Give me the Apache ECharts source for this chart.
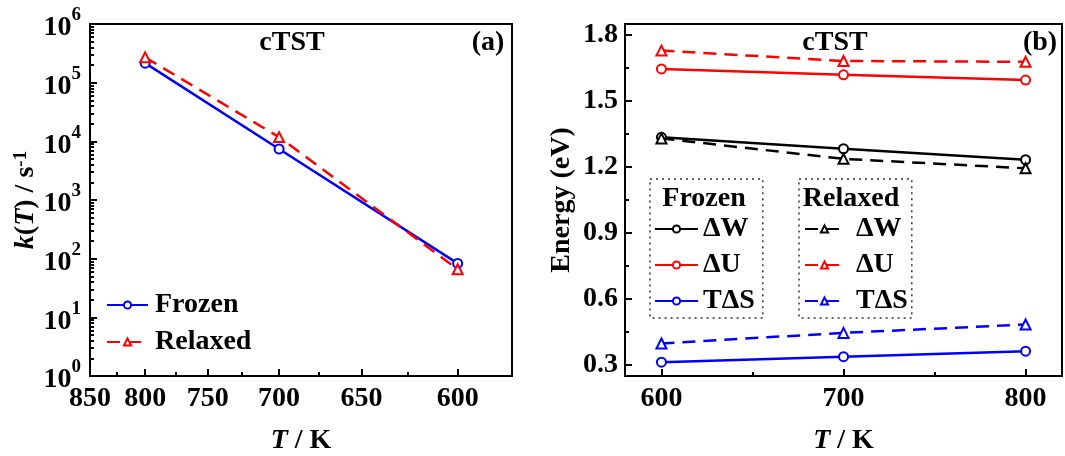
<!DOCTYPE html>
<html>
<head>
<meta charset="utf-8">
<script src="https://cdn.jsdelivr.net/npm/echarts@6/dist/echarts.min.js"></script>
<style>html,body{margin:0;padding:0;background:#fff}#c{width:1065px;height:456px}</style>
</head>
<body>
<div id="c"></div>
<script>
// ---------- data ----------
const tempsA = [800, 700, 600];                 // K
const kFrozen = [2.15e5, 7.4e3, 83];            // s^-1
const kRelaxed = [2.7e5, 1.18e4, 66];           // s^-1
const tickLabelsA = [850, 800, 750, 700, 650, 600];
const minorTicksA = [825, 775, 725, 675, 625];

const tempsB = [600, 700, 800];
const dWFrozen = [1.335, 1.283, 1.233];
const dUFrozen = [1.646, 1.619, 1.595];
const TdSFrozen = [0.313, 0.338, 0.363];
const dWRelaxed = [1.330, 1.237, 1.194];
const dURelaxed = [1.729, 1.682, 1.678];
const TdSRelaxed = [0.398, 0.446, 0.484];
const tickLabelsBx = [600, 700, 800];
const minorTicksBx = [650, 750];
const tickLabelsBy = [0.3, 0.6, 0.9, 1.2, 1.5, 1.8];
const minorTicksBy = [0.45, 0.75, 1.05, 1.35, 1.65];

// ---------- helpers ----------
const F = 'Liberation Serif, Times New Roman, serif';
const BLACK = '#000', RED = '#ff0000', BLUE = '#0000ff';
const inv = t => 1000 / t;
const logMinor = [];
for (let d = 0; d < 6; d++) for (let m = 2; m <= 9; m++) logMinor.push(Math.log10(m * Math.pow(10, d)));

const lbl = {fontFamily: F, fontSize: 28, fontWeight: 'bold', color: BLACK};
const axLine = {show: true, lineStyle: {color: BLACK, width: 2}};
const tickStyle = {color: BLACK, width: 2};

function lineSeries(name, xs, ys, xi, yi, color, dashed, tri) {
  return {
    type: 'line', name, xAxisIndex: xi, yAxisIndex: yi,
    data: xs.map((x, i) => [x, ys[i]]),
    symbol: tri ? 'emptyTriangle' : 'emptyCircle',
    symbolSize: tri ? 10 : 9,
    lineStyle: {color, width: 2.5, type: dashed ? [13, 8] : 'solid'},
    itemStyle: {color, borderColor: color, borderWidth: 1.2},
    z: 3
  };
}

const chart = echarts.init(document.getElementById('c'), null, {renderer: 'canvas'});
const option = {
  animation: false,
  backgroundColor: '#fff',
  grid: [
    {left: 90, top: 24, width: 422, height: 352, show: true, borderColor: BLACK, borderWidth: 2,
     containLabel: false, outerBoundsMode: 'none'},
    {left: 625, top: 24, width: 437, height: 352, show: true, borderColor: BLACK, borderWidth: 2,
     containLabel: false, outerBoundsMode: 'none'}
  ],
  xAxis: [
    {
      gridIndex: 0, type: 'value', position: 'bottom',
      min: inv(850), max: inv(575),
      axisLine: axLine,
      axisTick: {inside: true, length: 7, lineStyle: tickStyle, customValues: tickLabelsA.map(inv)},
      axisLabel: Object.assign({margin: 9, customValues: tickLabelsA.map(inv),
        formatter: v => String(Math.round(1000 / v))}, lbl),
      splitLine: {show: false},
      name: '{i|T}{n| / K}', nameLocation: 'middle', nameGap: 51,
      nameTextStyle: {rich: {i: Object.assign({fontStyle: 'italic'}, lbl), n: lbl}}
    },
    {
      gridIndex: 0, type: 'value', position: 'bottom',
      min: inv(850), max: inv(575),
      axisLine: {show: false},
      axisTick: {inside: true, length: 4, lineStyle: tickStyle, customValues: minorTicksA.map(inv)},
      axisLabel: {show: false}, splitLine: {show: false}
    },
    {
      gridIndex: 1, type: 'value', position: 'bottom',
      min: 580, max: 820,
      axisLine: axLine,
      axisTick: {inside: true, length: 7, lineStyle: tickStyle, customValues: tickLabelsBx},
      axisLabel: Object.assign({margin: 9, customValues: tickLabelsBx}, lbl),
      splitLine: {show: false},
      name: '{i|T}{n| / K}', nameLocation: 'middle', nameGap: 51,
      nameTextStyle: {rich: {i: Object.assign({fontStyle: 'italic'}, lbl), n: lbl}}
    },
    {
      gridIndex: 1, type: 'value', position: 'bottom',
      min: 580, max: 820,
      axisLine: {show: false},
      axisTick: {inside: true, length: 4, lineStyle: tickStyle, customValues: minorTicksBx},
      axisLabel: {show: false}, splitLine: {show: false}
    }
  ],
  yAxis: [
    {
      gridIndex: 0, type: 'log', logBase: 10, min: 1, max: 1e6, splitNumber: 6, position: 'left',
      axisLine: axLine,
      axisTick: {inside: true, length: 7, lineStyle: tickStyle},
      axisLabel: {
        margin: 9,
        formatter: v => '{b|10}{s|' + Math.round(Math.log10(v)) + '}',
        rich: {
          b: Object.assign({padding: [8, 0, 0, 0], verticalAlign: 'bottom'}, lbl),
          s: {fontFamily: F, fontSize: 19, fontWeight: 'bold', color: BLACK, verticalAlign: 'top'}
        }
      },
      splitLine: {show: false},
      name: '{i|k}{n|(}{i|T}{n|) / s}{s|-1}', nameLocation: 'middle', nameGap: 50,
      nameTextStyle: {rich: {
        i: Object.assign({fontStyle: 'italic'}, lbl), n: lbl,
        s: {fontFamily: F, fontSize: 19, fontWeight: 'bold', color: BLACK, verticalAlign: 'top'}
      }}
    },
    {
      gridIndex: 0, type: 'value', min: 0, max: 6, position: 'left',
      axisLine: {show: false},
      axisTick: {inside: true, length: 4, lineStyle: tickStyle, customValues: logMinor},
      axisLabel: {show: false}, splitLine: {show: false}
    },
    {
      gridIndex: 1, type: 'value', min: 0.25, max: 1.85, position: 'left',
      axisLine: axLine,
      axisTick: {inside: true, length: 7, lineStyle: tickStyle, customValues: tickLabelsBy},
      axisLabel: Object.assign({margin: 7, customValues: tickLabelsBy, formatter: v => v.toFixed(1)}, lbl),
      splitLine: {show: false},
      name: 'Energy (eV)', nameLocation: 'middle', nameGap: 49,
      nameTextStyle: lbl
    },
    {
      gridIndex: 1, type: 'value', min: 0.25, max: 1.85, position: 'left',
      axisLine: {show: false},
      axisTick: {inside: true, length: 4, lineStyle: tickStyle, customValues: minorTicksBy},
      axisLabel: {show: false}, splitLine: {show: false}
    }
  ],
  legend: [
    {
      data: ['Frozen', 'Relaxed'], orient: 'vertical', left: 106, top: 291, padding: 0,
      itemWidth: 41, itemHeight: 9, itemGap: 9,
      textStyle: Object.assign({padding: [0, 0, 0, 2]}, lbl)
    },
    {
      data: ['Frozen ΔW', 'Frozen ΔU', 'Frozen TΔS'], orient: 'vertical', left: 650, top: 179,
      padding: [36, 8, 3, 4], borderColor: '#333', borderWidth: 1.5, borderType: [2, 4],
      itemWidth: 43, itemHeight: 9, itemGap: 8,
      formatter: n => n.replace('Frozen ', ''),
      textStyle: lbl
    },
    {
      data: ['Relaxed ΔW', 'Relaxed ΔU', 'Relaxed TΔS'], orient: 'vertical', left: 799, top: 179,
      padding: [36, 4, 3, 5], borderColor: '#333', borderWidth: 1.5, borderType: [2, 4],
      itemWidth: 39, itemHeight: 9, itemGap: 8,
      formatter: n => n.replace('Relaxed ', ''),
      textStyle: Object.assign({padding: [0, 0, 0, 7]}, lbl)
    }
  ],
  graphic: [
    {type: 'text', x: 292, y: 43, style: {text: 'cTST', font: 'bold 28px ' + F, fill: BLACK, textAlign: 'center', textVerticalAlign: 'middle'}},
    {type: 'text', x: 488, y: 43, style: {text: '(a)', font: 'bold 28px ' + F, fill: BLACK, textAlign: 'center', textVerticalAlign: 'middle'}},
    {type: 'text', x: 835, y: 43, style: {text: 'cTST', font: 'bold 28px ' + F, fill: BLACK, textAlign: 'center', textVerticalAlign: 'middle'}},
    {type: 'text', x: 1040, y: 43, style: {text: '(b)', font: 'bold 28px ' + F, fill: BLACK, textAlign: 'center', textVerticalAlign: 'middle'}},
    {type: 'text', x: 704, y: 199, style: {text: 'Frozen', font: 'bold 28px ' + F, fill: BLACK, textAlign: 'center', textVerticalAlign: 'middle'}},
    {type: 'text', x: 851, y: 199, style: {text: 'Relaxed', font: 'bold 28px ' + F, fill: BLACK, textAlign: 'center', textVerticalAlign: 'middle'}}
  ],
  series: [
    lineSeries('Frozen', tempsA.map(inv), kFrozen, 0, 0, BLUE, false, false),
    lineSeries('Relaxed', tempsA.map(inv), kRelaxed, 0, 0, RED, true, true),
    lineSeries('Frozen ΔW', tempsB, dWFrozen, 2, 2, BLACK, false, false),
    lineSeries('Frozen ΔU', tempsB, dUFrozen, 2, 2, RED, false, false),
    lineSeries('Frozen TΔS', tempsB, TdSFrozen, 2, 2, BLUE, false, false),
    lineSeries('Relaxed ΔW', tempsB, dWRelaxed, 2, 2, BLACK, true, true),
    lineSeries('Relaxed ΔU', tempsB, dURelaxed, 2, 2, RED, true, true),
    lineSeries('Relaxed TΔS', tempsB, TdSRelaxed, 2, 2, BLUE, true, true)
  ]
};
chart.setOption(option);
</script>
</body>
</html>
